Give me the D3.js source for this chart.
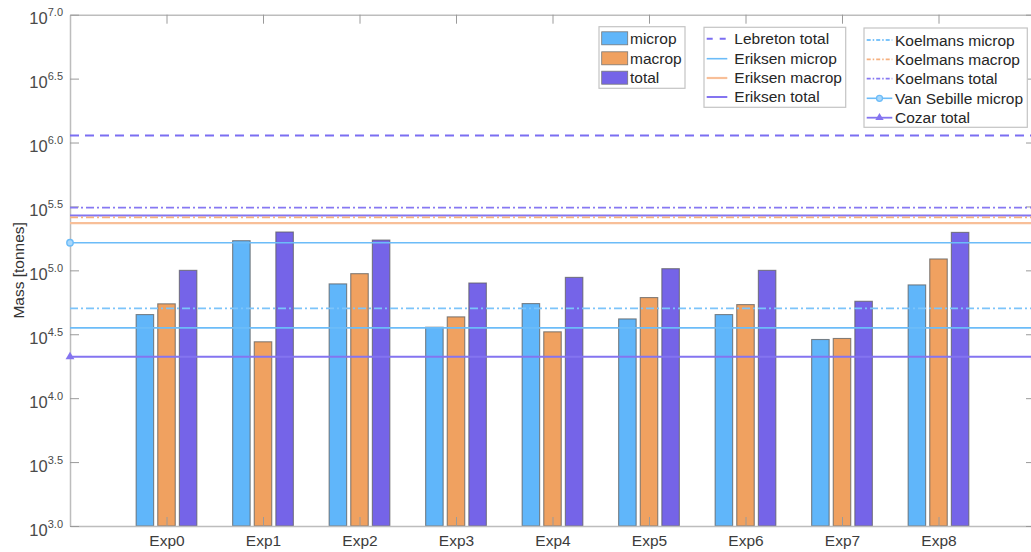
<!DOCTYPE html>
<html>
<head>
<meta charset="utf-8">
<script src="https://cdn.jsdelivr.net/npm/d3@7"></script>
<style>
  body { margin: 0; background: #fff; }
  svg { display: block; font-family: "Liberation Sans", Arial, sans-serif; }
</style>
</head>
<body>
<svg id="chart"></svg>
<script>
// categories and series (log10 of mass in tonnes)
const experiments = ["Exp0", "Exp1", "Exp2", "Exp3", "Exp4", "Exp5", "Exp6", "Exp7", "Exp8"];
const seriesNames = ["microp", "macrop", "total"];
const micropLog = [4.654, 5.232, 4.894, 4.555, 4.740, 4.620, 4.654, 4.459, 4.886];
const macropLog = [4.738, 4.441, 4.974, 4.636, 4.519, 4.787, 4.732, 4.467, 5.089];
const totalLog  = [5.000, 5.300, 5.237, 4.901, 4.945, 5.013, 5.000, 4.758, 5.297];

// reference estimates (log10 tonnes)
const refNames  = ["Lebreton total", "Eriksen microp", "Eriksen macrop", "Eriksen total",
                   "Koelmans microp", "Koelmans macrop", "Koelmans total",
                   "Van Sebille microp", "Cozar total"];
const refLog    = [6.055, 4.550, 5.369, 5.430, 4.703, 5.414, 5.490, 5.216, 4.324];

const yTickExps = [3.0, 3.5, 4.0, 4.5, 5.0, 5.5, 6.0, 6.5, 7.0];

const W = 1031, H = 552;
const margin = { top: 14.7, right: -4, bottom: 26, left: 70 };
const blue = "#60b6fa", orange = "#f0a160", purple = "#7564e8";
const lineStyles = [
  { color: "#7b6ef2", dash: "9,6", width: 2 },
  { color: "#6cbcf8", dash: null, width: 1.6 },
  { color: "#f8bf98", dash: null, width: 2.2 },
  { color: "#8474f0", dash: null, width: 2 },
  { color: "#7cc4fa", dash: "8,3,2,3", width: 1.8 },
  { color: "#f6b07e", dash: "8,3,2,3", width: 1.8 },
  { color: "#8678f2", dash: "8,3,2,3", width: 1.8 },
  { color: "#6cbcf8", dash: null, width: 1.6, marker: "circle" },
  { color: "#8474f0", dash: null, width: 1.8, marker: "triangle" }
];

const svg = d3.select("#chart").attr("width", W).attr("height", H);

const x0 = margin.left, x1 = W - margin.right;
const yTop = margin.top, yBot = H - margin.bottom;

const x = d3.scaleLinear().domain([0, 10]).range([x0, x1]);
const y = d3.scaleLog().domain([1e3, 1e7]).range([yBot, yTop]);
const sub = d3.scaleBand().domain(seriesNames).range([-30.35, 30.35]).paddingInner(0.19);

const seriesData = [micropLog, macropLog, totalLog];
const colors = [blue, orange, purple];

// bars
seriesData.forEach((vals, si) => {
  svg.append("g").selectAll("rect")
    .data(vals)
    .join("rect")
      .attr("x", (d, i) => x(i + 1) + sub(seriesNames[si]))
      .attr("width", sub.bandwidth())
      .attr("y", d => y(Math.pow(10, d)))
      .attr("height", d => y(1e3) - y(Math.pow(10, d)))
      .attr("fill", colors[si])
      .attr("stroke", "#5f5f5f")
      .attr("stroke-opacity", 0.75)
      .attr("stroke-width", 1.1);
});

// axes box (inward ticks)
const axisCol = "#bdbdbd";
const styleAxis = g => {
  g.select(".domain").attr("stroke", axisCol).attr("stroke-width", 1.5);
  g.selectAll(".tick line").attr("stroke", "#9a9a9a").attr("stroke-width", 1);
};
const catTicks = experiments.map((d, i) => i + 1);

svg.append("g")
  .attr("transform", `translate(0,${yBot})`)
  .call(d3.axisBottom(x).tickValues(catTicks).tickSizeInner(-9).tickSizeOuter(0)
        .tickFormat((d, i) => experiments[i]))
  .call(styleAxis)
  .call(g => g.selectAll(".tick text")
    .attr("y", 20).attr("dy", 0)
    .attr("font-size", 15.5).attr("fill", "#3c3c3c")
    .attr("font-family", "Liberation Sans, Arial, sans-serif"));

svg.append("g")
  .attr("transform", `translate(0,${yTop})`)
  .call(d3.axisTop(x).tickValues(catTicks).tickSizeInner(-9).tickSizeOuter(0).tickFormat(""))
  .call(styleAxis);

svg.append("g")
  .attr("transform", `translate(${x1},0)`)
  .call(d3.axisRight(y).tickValues(yTickExps.map(e => Math.pow(10, e))).tickSizeInner(-9).tickSizeOuter(0).tickFormat(""))
  .call(styleAxis);

svg.append("g")
  .attr("transform", `translate(${x0},0)`)
  .call(d3.axisLeft(y).tickValues(yTickExps.map(e => Math.pow(10, e))).tickSizeInner(-9).tickSizeOuter(0).tickFormat(""))
  .call(styleAxis)
  .call(g => g.selectAll(".tick").each(function(d) {
    const e = Math.log10(d);
    const t = d3.select(this).append("text")
      .attr("x", -7).attr("y", 9)
      .attr("text-anchor", "end")
      .attr("fill", "#4a4a4a")
      .attr("font-family", "Liberation Sans, Arial, sans-serif");
    t.append("tspan").attr("font-size", 16.5).text("10");
    t.append("tspan").attr("font-size", 11).attr("dy", -8).text(e.toFixed(1));
  }));

// y label
svg.append("text")
  .attr("transform", `translate(24,${(yTop + yBot) / 2}) rotate(-90)`)
  .attr("text-anchor", "middle")
  .attr("font-size", 15.5)
  .attr("fill", "#333")
  .text("Mass [tonnes]");

// reference lines
const refG = svg.append("g");
refLog.forEach((v, i) => {
  const s = lineStyles[i];
  refG.append("line")
    .attr("x1", x(0)).attr("x2", x(10))
    .attr("y1", y(Math.pow(10, v))).attr("y2", y(Math.pow(10, v)))
    .attr("stroke", s.color).attr("stroke-width", s.width)
    .attr("stroke-dasharray", s.dash);
  if (s.marker == "circle") {
    [0, 10].forEach(p => refG.append("circle")
      .attr("cx", x(p)).attr("cy", y(Math.pow(10, v))).attr("r", 3.2)
      .attr("fill", "#a9d8fc").attr("stroke", s.color).attr("stroke-width", 1.4));
  }
  if (s.marker == "triangle") {
    [0, 10].forEach(p => refG.append("path")
      .attr("transform", `translate(${x(p)},${y(Math.pow(10, v))})`)
      .attr("d", d3.symbol(d3.symbolTriangle, 34)())
      .attr("fill", s.color));
  }
});

// legends
function drawLegend(gx, gy, w, h, rowY, textX, items, drawKey) {
  const g = svg.append("g").attr("transform", `translate(${gx},${gy})`);
  g.append("rect").attr("width", w).attr("height", h)
    .attr("fill", "#fff").attr("stroke", "#c4c4c4").attr("stroke-width", 1.2);
  items.forEach((it, k) => {
    const ry = rowY[k];
    drawKey(g, it, k, ry);
    g.append("text")
      .attr("x", textX).attr("y", ry + 5.5)
      .attr("font-size", 15.5).attr("fill", "#262626")
      .text(it);
  });
}

drawLegend(599, 26.7, 86, 61.6, [11.6, 31.6, 51], 31, seriesNames, (g, it, k, ry) => {
  g.append("rect").attr("x", 2.7).attr("y", ry - 6.5).attr("width", 26).attr("height", 13)
    .attr("fill", colors[k]).attr("stroke", "#777").attr("stroke-width", 0.8);
});

drawLegend(704, 27.3, 141.7, 80, [11.4, 31.4, 50.7, 69.7], 30.3, refNames.slice(0, 4), (g, it, k, ry) => {
  const s = lineStyles[k];
  g.append("line").attr("x1", 2.7).attr("x2", 23.3).attr("y1", ry).attr("y2", ry)
    .attr("stroke", s.color).attr("stroke-width", s.width)
    .attr("stroke-dasharray", s.dash ? "6,7" : null);
});

drawLegend(864, 28, 163.3, 99.3, [12, 31.3, 50.7, 70.3, 89.7], 31, refNames.slice(4), (g, it, k, ry) => {
  const s = lineStyles[k + 4];
  g.append("line").attr("x1", 2.7).attr("x2", 28.3).attr("y1", ry).attr("y2", ry)
    .attr("stroke", s.color).attr("stroke-width", s.width)
    .attr("stroke-dasharray", s.dash ? "4,2,1.5,2" : null);
  if (s.marker == "circle") {
    g.append("circle").attr("cx", 15.5).attr("cy", ry).attr("r", 3)
      .attr("fill", "#a9d8fc").attr("stroke", s.color).attr("stroke-width", 1.3);
  }
  if (s.marker == "triangle") {
    g.append("path").attr("transform", `translate(15.5,${ry})`)
      .attr("d", d3.symbol(d3.symbolTriangle, 30)()).attr("fill", s.color);
  }
});
</script>
</body>
</html>
